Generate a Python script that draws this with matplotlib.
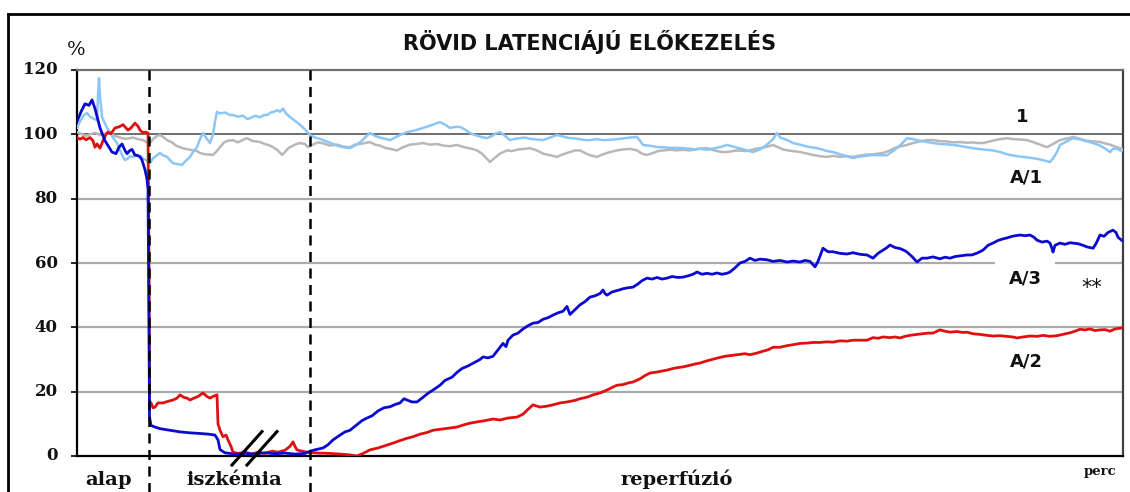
import matplotlib
matplotlib.use("Agg")
import matplotlib.pyplot as plt
from matplotlib.lines import Line2D
import matplotlib.transforms as mtransforms

# ---------------- data (time in arbitrary units along the record, value in %) -------------
series_a3 = [(77,104),(81,107),(85,109.5),(89,109),(92,110.7),(95,108),(100,102),(105,98),(109,96),(112,94.5),
    (116,94),(119,96),(122,97),(125,95),(127,94),(130,95),(132,95.3),(135,93.5),(137,93.5),(140,93),(142,92),
    (145,89),(147,86),(148,83),(149,40),(149.5,12),(151,9.5),(155,9),(160,8.5),(170,8),(180,7.5),(190,7.2),
    (200,7),(208,6.8),(215,6.5),(218,5),(220,2),(225,1),(230,0.8),(235,0.5),(245,0.8),(255,0.6),(265,1),
    (275,0.7),(285,0.9),(295,0.6),(305,0.8),(310,1.5),(316,2),(323,2.5),(328,3.5),(333,5),(340,6.5),(345,7.5),
    (350,8),(356,9.5),(362,11),(367,11.8),(372,12.5),(378,14),(384,15),(390,15.3),(395,16),(400,16.5),(404,17.8),
    (407,17.4),(412,16.8),(417,16.8),(422,18),(428,19.5),(433,20.5),(440,22),(445,23.5),(452,24.5),(457,26),
    (462,27.2),(468,28),(474,29),(480,30),(483,30.8),(488,30.5),(493,31),(498,33),(503,35),(506,34),(508,36),
    (513,37.6),(518,38.2),(523,39.5),(528,40.5),(533,41.3),(538,41.5),(543,42.5),(548,43),(553,43.8),(558,44.5),
    (563,45),(567,46.5),(570,44),(575,45.5),(580,47),(585,48),(590,49.4),(595,49.8),(600,50.5),(603,51.6),
    (605,50.5),(607,50),(612,51),(618,51.5),(623,52),(628,52.3),(633,52.5),(638,53.5),(642,54.5),(647,55.3),
    (652,55),(657,55.5),(662,55),(667,55.3),(672,55.8),(678,55.5),(683,55.6),(688,56),(693,56.5),(697,57.2),
    (702,56.5),(707,56.8),(712,56.5),(717,56.9),(722,56.5),(727,56.8),(730,57.2),(735,58.5),(740,60),(745,60.5),
    (750,61.5),(755,60.8),(760,61.2),(767,61),(773,60.5),(780,60.8),(787,60.3),(793,60.6),(800,60.3),(805,60.8),
    (810,60.5),(813,59.5),(815,58.8),(818,60.5),(821,63),(823,64.6),(828,63.5),(833,63.5),(840,63),(847,62.8),
    (853,63.2),(860,62.7),(867,62.5),(870,62),(873,61.5),(878,63),(883,64),(887,64.8),(890,65.6),(895,64.8),
    (900,64.5),(905,63.8),(907,63.4),(912,62),(917,60.3),(922,61.5),(927,61.5),(933,61.9),(940,61.3),(945,61.8),
    (950,61.5),(955,62),(960,62.2),(967,62.5),(972,62.5),(978,63.2),(983,64),(988,65.5),(993,66.2),(998,67),
    (1003,67.5),(1007,67.8),(1012,68.3),(1016,68.5),(1020,68.7),(1025,68.5),(1030,68.7),(1034,68),(1037,67.1),
    (1042,66.5),(1047,66.8),(1050,66.2),(1052,64.5),(1053,63.4),(1055,65.5),(1060,66.2),(1065,65.8),(1070,66.3),
    (1073,66.2),(1078,66),(1083,65.5),(1087,65),(1090,64.8),(1093,64.6),(1096,66),(1100,68.7),(1104,68.3),
    (1108,69.5),(1113,70.2),(1116,69.5),(1118,68),(1122,67)]

series_a2 = [(77,99),(80,98.5),(83,99),(86,98.3),(90,99),(93,98),(95,96),(97,97),(100,95.7),(103,98),(106,100),
    (108,100.7),(111,100.2),(115,102),(119,102.3),(123,103),(126,102),(128,101.3),(131,102),(135,103.5),(138,102.5),
    (140,101.3),(143,100.5),(145,100.7),(148,100.4),(149,60),(149.5,17),(151,16.5),(153,15),(155,15.2),(158,16.5),
    (163,16.5),(168,17),(173,17.4),(177,18),(180,19),(184,18.2),(187,18),(190,17.4),(194,18),(198,18.5),(203,19.6),
    (207,18.5),(210,18),(213,18.5),(217,19),(218,10),(220,8),(223,6),(226,6.5),(228,5),(231,3),(233,1.2),(238,0.8),
    (245,1.2),(252,0.6),(258,1.2),(265,0.8),(272,1.5),(278,1.2),(285,1.8),(290,3),(293,4.4),(295,3),(297,1.9),
    (302,1.5),(307,1.2),(313,1),(320,0.9),(330,0.8),(340,0.6),(348,0.4),(357,0),(363,0.8),(370,1.9),(378,2.5),
    (385,3.2),(393,4),(400,4.8),(407,5.5),(413,6),(420,6.8),(427,7.3),(433,8),(440,8.3),(447,8.6),(457,9),
    (465,9.8),(470,10.2),(477,10.6),(485,11),(493,11.5),(500,11.2),(508,11.8),(517,12.1),(523,13),(528,14.5),
    (533,15.9),(540,15.2),(547,15.5),(553,15.9),(560,16.5),(567,16.8),(575,17.3),(580,17.8),(587,18.3),(593,19),
    (600,19.6),(607,20.5),(612,21.3),(617,22),(623,22.2),(628,22.7),(633,23),(640,24),(645,25),(650,25.8),
    (655,26),(660,26.3),(667,26.7),(673,27.2),(678,27.5),(683,27.7),(690,28.2),(695,28.6),(700,28.9),(706,29.5),
    (712,30),(718,30.5),(725,31),(730,31.2),(737,31.5),(745,31.8),(750,31.5),(757,32),(762,32.5),(768,33),
    (773,33.8),(780,33.8),(787,34.3),(793,34.6),(800,35),(807,35.1),(813,35.3),(820,35.3),(827,35.5),(833,35.4),
    (840,35.8),(847,35.7),(853,36),(860,36),(867,36),(873,36.8),(878,36.6),(883,37),(890,36.8),(895,37),
    (900,36.7),(905,37.2),(910,37.5),(917,37.8),(923,38),(928,38.2),(933,38.2),(937,38.8),(940,39.2),(945,38.8),
    (950,38.5),(957,38.7),(963,38.4),(967,38.5),(973,38),(980,37.8),(987,37.5),(993,37.3),(1000,37.4),(1007,37.2),
    (1013,37),(1017,36.7),(1023,37),(1030,37.3),(1037,37.2),(1043,37.5),(1050,37.2),(1057,37.4),(1063,37.8),
    (1070,38.3),(1075,38.8),(1080,39.4),(1085,39.2),(1090,39.5),(1095,39),(1100,39.2),(1105,39.3),(1110,38.8),
    (1115,39.5),(1122,39.8)]

series_1 = [(77,100.7),(82,100),(86,99.5),(90,100),(95,100.5),(100,99.8),(105,100.2),(110,100.4),(115,99.5),
    (120,99),(125,98.6),(130,98.8),(133,99),(138,98.5),(143,98.2),(147,97.5),(150,97.3),(153,98.5),(157,99.5),
    (160,99.8),(164,99),(167,98.2),(172,97.5),(176,96.5),(180,96),(185,95.5),(190,95.2),(193,95),(197,94.8),
    (200,94.2),(205,93.8),(210,93.7),(213,93.6),(216,94.5),(220,96),(224,97.5),(228,98),(233,98.2),(238,97.5),
    (243,98.3),(247,98.8),(252,98),(256,97.8),(260,97.6),(265,97),(270,96.5),(273,96),(277,95.2),(280,94.3),
    (282,93.6),(285,94.5),(288,95.6),(290,96),(295,96.8),(300,97.3),(305,97),(308,96),(312,96.7),(318,97.5),
    (323,97.2),(330,96.5),(337,96.8),(343,96.2),(350,96),(355,96.8),(360,97),(365,97.3),(370,97.6),(375,96.8),
    (380,96.5),(385,95.8),(390,95.5),(397,95),(403,96),(410,96.8),(417,97),(423,97.3),(430,96.8),(437,97),
    (443,96.5),(450,96.3),(457,96.7),(462,96.2),(467,95.8),(472,95.5),(477,95),(482,94),(485,93),(490,91.4),
    (494,92.5),(500,94),(507,95),(512,94.8),(518,95.3),(525,95.5),(530,95.7),(537,95),(543,94),(550,93.5),
    (557,93),(563,93.8),(570,94.5),(575,95),(580,95),(585,94.2),(590,93.5),(597,93),(603,93.8),(610,94.5),
    (617,95),(623,95.3),(630,95.5),(637,95),(642,94),(647,93.6),(653,94.2),(658,94.8),(663,95),(670,95.2),
    (677,95),(683,95.2),(690,95),(695,95.3),(700,95.6),(707,95.7),(712,95.2),(717,94.8),(722,94.5),(727,94.5),
    (733,94.8),(738,95),(745,94.8),(750,95),(756,95.5),(762,95.8),(768,96.2),(773,96.7),(778,96),(783,95.3),
    (788,95),(793,94.8),(800,94.5),(807,94),(813,93.6),(820,93.2),(827,93),(833,93.3),(840,93),(847,93.2),
    (853,93),(860,93.4),(867,93.7),(873,93.8),(878,94),(883,94.2),(890,95),(895,95.8),(900,96.2),(907,96.7),
    (913,97.3),(920,97.8),(927,98.2),(933,98.2),(940,97.9),(947,97.8),(953,97.5),(960,97.6),(967,97.4),
    (973,97.5),(978,97.3),(983,97.3),(990,97.8),(995,98.2),(1000,98.5),(1007,98.8),(1013,98.5),(1020,98.4),
    (1027,98.2),(1033,97.6),(1040,96.8),(1047,96),(1053,97),(1060,98.2),(1065,98.6),(1070,98.9),(1073,99.2),
    (1080,98.6),(1087,98),(1093,97.8),(1100,97.6),(1105,97.2),(1110,96.8),(1115,96.2),(1120,95.7),(1122,95.5)]

series_a1 = [(77,102),(80,104),(84,106),(87,106.6),(90,105.5),(94,104.8),(97,104.4),(98,112),(99,117.5),(100,112),
    (102,105.4),(104,104),(107,102),(110,100.5),(113,99),(117,97.3),(120,95),(123,93),(125,92),(128,92.5),
    (130,93.2),(133,93),(136,93.5),(140,93.3),(143,92.5),(146,92),(150,91),(153,92.5),(157,93.5),(160,94.2),
    (163,93.5),(167,93),(170,92),(173,91),(177,90.8),(182,90.5),(185,91.5),(190,93),(193,94.5),(197,96),
    (200,98.5),(203,100.4),(206,99),(210,97.3),(213,100),(215,104),(217,107),(220,106.5),(225,106.8),(230,106),
    (233,106),(238,105.5),(243,105.8),(247,104.8),(250,105),(255,105.8),(260,105.3),(264,106),(267,106),
    (271,106.8),(274,107),(277,107.5),(280,107),(283,108),(286,106.5),(290,105.4),(295,104.2),(300,103),
    (305,101.5),(310,99.8),(315,99),(320,98.6),(323,98.2),(328,97.6),(333,97),(338,96.4),(343,96),(350,95.7),
    (355,96.5),(360,97.5),(365,99),(370,100.4),(375,99.5),(380,99),(385,98.6),(390,98.2),(395,99),(400,99.8),
    (405,100.4),(407,100.7),(412,101),(418,101.5),(423,102),(428,102.5),(433,103),(437,103.5),(440,103.8),
    (445,103),(450,102),(455,102.3),(460,102.3),(465,101.5),(470,100.4),(475,99.8),(480,99.3),(487,98.8),
    (492,99.5),(496,100.3),(500,100.7),(505,99.5),(510,98.2),(515,98.6),(520,98.8),(525,99),(530,98.6),
    (537,98.4),(543,98.2),(550,99),(557,99.8),(563,99.3),(568,98.9),(573,98.8),(580,98.5),(585,98.2),(590,98.2),
    (597,98.5),(603,98.2),(610,98.3),(617,98.5),(623,98.7),(630,99),(637,99.2),(640,98),(643,96.7),(648,96.5),
    (653,96.3),(658,96),(663,96),(670,95.8),(677,95.8),(683,95.7),(690,95.5),(695,95.3),(700,95.5),(707,95.2),
    (713,95.6),(720,96),(727,96.7),(733,96.2),(740,95.6),(747,95),(753,94.5),(760,95.3),(767,96.8),(773,98.5),
    (777,100.4),(780,99),(785,98.5),(790,97.8),(793,97.3),(800,96.8),(807,96.2),(813,95.9),(817,95.7),
    (823,95.2),(827,94.8),(833,94.5),(840,93.8),(847,93.2),(853,92.6),(858,93),(863,93.2),(868,93.4),(873,93.6),
    (880,93.5),(887,93.5),(893,94.8),(900,96.5),(907,98.8),(913,98.5),(920,98),(927,97.6),(933,97.3),(940,97),
    (947,96.9),(953,96.7),(960,96.4),(967,96),(973,95.7),(980,95.4),(987,95.2),(993,95),(1000,94.5),(1005,94),
    (1010,93.6),(1017,93.2),(1023,93),(1028,92.8),(1033,92.6),(1040,92.2),(1045,91.8),(1050,91.4),(1053,92.5),
    (1057,94.5),(1060,96.7),(1065,97.5),(1070,98.3),(1073,98.8),(1080,98.4),(1087,97.8),(1093,97.3),(1100,96.5),
    (1105,95.6),(1110,94.5),(1113,95.5),(1117,95.5),(1120,95),(1122,95)]

phase_marks = [149, 310]              # end of "alap", end of "iszkémia"
y_ticks = [0, 20, 40, 60, 80, 100, 120]
phase_labels = ["alap", "iszkémia", "reperfúzió"]
phase_label_x = [109, 234.5, 677]
series_labels = ["1", "A/1", "A/3", "**", "A/2"]
series_label_pos = [(1022, 105.5), (1026, 86.6), (1025, 55.3), (1092, 52.3), (1026, 29.4)]
title = "RÖVID LATENCIÁJÚ ELŐKEZELÉS"

# ---------------- figure ----------------
W, H = 1130, 492
fig = plt.figure(figsize=(W / 100, H / 100), dpi=100)
fig.patch.set_facecolor("white")
ax = fig.add_axes([77 / W, 1 - 456 / H, (1123 - 77) / W, (456 - 70) / H])
ax.set_xlim(77, 1123)
ax.set_ylim(0, 120)

SERIF = "DejaVu Serif"
SANS = "DejaVu Sans"

# grid
for v in [20, 40, 60, 80]:
    ax.axhline(v, color="#ababab", lw=1.6, zorder=1)
ax.axhline(100, color="#6e6e6e", lw=1.4, zorder=1)

# spines
for s in ["left", "bottom"]:
    ax.spines[s].set_color("black")
    ax.spines[s].set_linewidth(1.6)
ax.spines["top"].set_color("#707070")
ax.spines["top"].set_linewidth(1.6)
ax.spines["right"].set_color("#404040")
ax.spines["right"].set_linewidth(1.6)

ax.set_yticks(y_ticks)
ax.set_yticklabels([])
ax.tick_params(axis="y", length=4, width=1.2, colors="black")
ax.set_xticks([])

# y tick labels, right-aligned a fixed distance left of the axis
lab_tr = mtransforms.offset_copy(ax.get_yaxis_transform(), fig=fig, x=-14, y=0, units="points")
for v in y_ticks:
    ax.text(0, v, str(v), transform=lab_tr, ha="right", va="center", fontfamily=SERIF,
            fontweight="bold", fontsize=12, color="#111111", clip_on=False)

def draw(series, color, lw, z):
    xs = [p[0] for p in series]
    ys = [p[1] for p in series]
    ax.plot(xs, ys, color=color, lw=lw, zorder=z, solid_joinstyle="round")

draw(series_1, "#b8b8b8", 1.8, 3)
draw(series_a1, "#8cc6f5", 1.8, 3.1)
draw(series_a2, "#e01010", 2.0, 3.2)
draw(series_a3, "#0a0ad0", 2.0, 3.3)

# dashed phase separators
for xm in phase_marks:
    ax.plot([xm, xm], [120, -13], color="black", lw=1.8, ls=(0, (4, 2.6)), clip_on=False, zorder=5)

# break marks
for x0 in [232, 247]:
    ax.plot([x0, x0 + 30], [-2.8, 7.6], color="black", lw=2.2, clip_on=False, zorder=6)

# series labels
for lab, (lx, ly) in zip(series_labels, series_label_pos):
    kw = dict(ha="center", va="center", fontfamily=SANS, fontweight="bold",
              fontsize=13 if lab != "**" else 15, color="#111111", zorder=2.5)
    if lab == "**":
        kw["fontweight"] = "normal"
    if lab == "A/3":
        kw["bbox"] = dict(facecolor="white", edgecolor="none", pad=10)
    ax.text(lx, ly, lab, **kw)

# phase labels
for lab, lx in zip(phase_labels, phase_label_x):
    ax.text(lx, -9.0, lab, ha="center", va="baseline", fontfamily=SERIF, fontweight="bold",
            fontsize=14, color="#111111", clip_on=False)
ax.text(1100, -5.8, "perc", ha="center", va="baseline", fontfamily=SERIF, fontweight="bold",
        fontsize=9.5, color="#111111", clip_on=False)

# title and unit
fig.text(590 / W, 1 - 42 / H, title, ha="center", va="center", fontfamily=SANS,
         fontweight="bold", fontsize=15, color="#111111")
fig.text(76 / W, 1 - 50 / H, "%", ha="center", va="center", fontfamily=SERIF, fontsize=14, color="#111111")

# outer frame (top and left edges visible)
fig.add_artist(Line2D([8 / W, 8 / W], [0, 1 - 14 / H], transform=fig.transFigure, color="black", lw=2))
fig.add_artist(Line2D([8 / W, 1], [1 - 14 / H, 1 - 14 / H], transform=fig.transFigure, color="black", lw=2))

fig.savefig("out.png", dpi=100, facecolor="white")
